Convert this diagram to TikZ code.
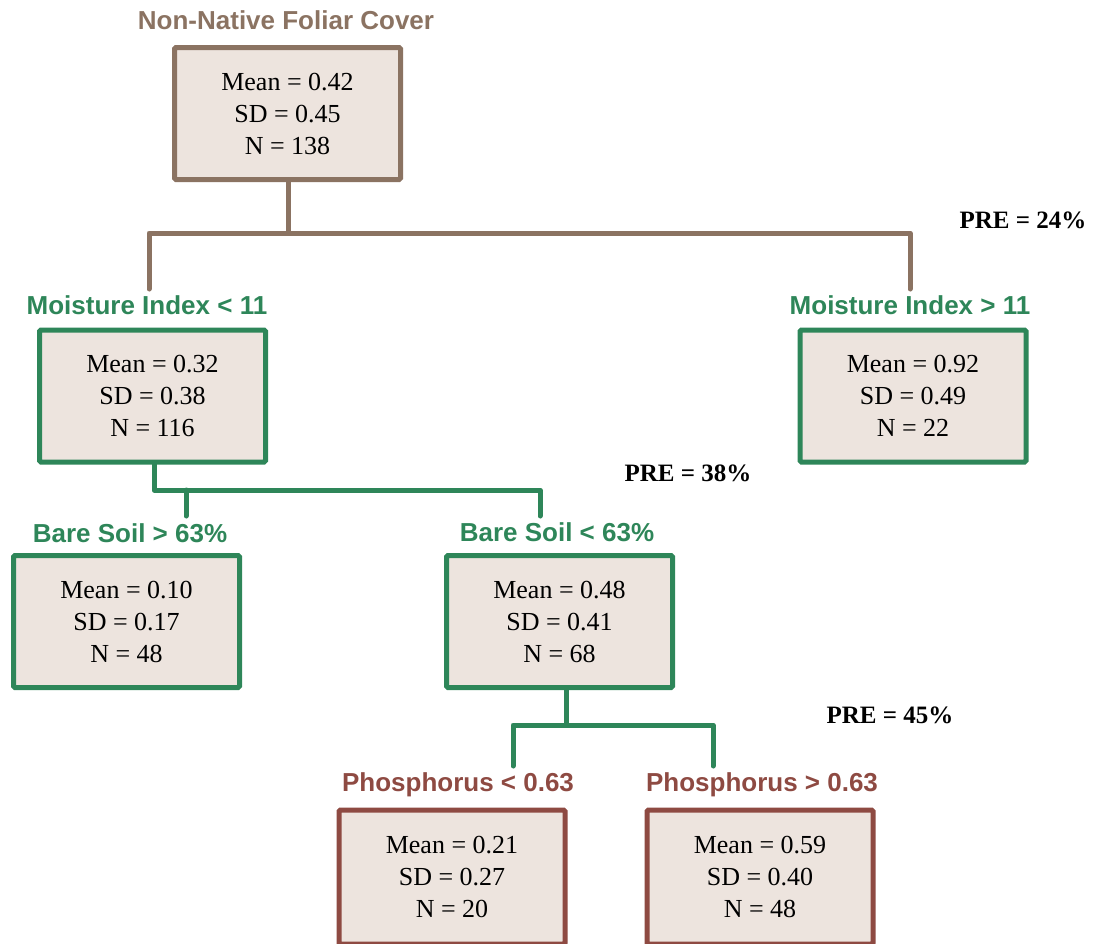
\documentclass[tikz,border=0pt]{standalone}
\usepackage{fontspec}
\setmainfont{Liberation Serif}
\newfontfamily\hdrfont{Liberation Sans}
\definecolor{rootc}{HTML}{8B7362}
\definecolor{greenc}{HTML}{2E8659}
\definecolor{redc}{HTML}{8E4A42}
\definecolor{fillc}{HTML}{EDE4DE}
\begin{document}
\begin{tikzpicture}[x=1pt,y=-1pt,
  box/.style={draw=#1, fill=fillc, line width=5pt, rounded corners=1.5pt,
    minimum width=226pt, minimum height=132pt, align=center, inner sep=0pt,
    font=\fontsize{26}{32}\selectfont},
  hdr/.style={text=#1, font=\hdrfont\bfseries\fontsize{26}{30}\selectfont, inner sep=0pt},
  conn/.style={draw=#1, line width=5pt, line cap=round, line join=round},
  pre/.style={font=\bfseries\fontsize{25}{30}\selectfont, inner sep=0pt}]
\useasboundingbox (0,0) rectangle (1093,943);

% Root
\node[hdr=rootc] (hroot) at (286,20) {Non-Native Foliar Cover};
\node[box=rootc] (root) at (287.5,113.5) {Mean = 0.42\\SD = 0.45\\N = 138};

% Level 1
\node[hdr=greenc] (hm1) at (147,305) {Moisture Index < 11};
\node[box=greenc] (m1) at (152.5,396) {Mean = 0.32\\SD = 0.38\\N = 116};
\node[hdr=greenc] (hm2) at (910,305) {Moisture Index > 11};
\node[box=greenc] (m2) at (913,396) {Mean = 0.92\\SD = 0.49\\N = 22};

% Level 2
\node[hdr=greenc] (hb1) at (130,533) {Bare Soil > 63\%};
\node[box=greenc] (b1) at (126.5,621.5) {Mean = 0.10\\SD = 0.17\\N = 48};
\node[hdr=greenc] (hb2) at (557,532) {Bare Soil < 63\%};
\node[box=greenc] (b2) at (559.5,621.5) {Mean = 0.48\\SD = 0.41\\N = 68};

% Level 3
\node[hdr=redc] (hp1) at (458,785) {Phosphorus < 0.63};
\node[box=redc, minimum height=134pt] (p1) at (452,877) {Mean = 0.21\\SD = 0.27\\N = 20};
\node[hdr=redc] (hp2) at (762,785) {Phosphorus > 0.63};
\node[box=redc, minimum height=134pt] (p2) at (760,877) {Mean = 0.59\\SD = 0.40\\N = 48};

% PRE labels
\node[pre] (pre1) at (1023,220) {PRE = 24\%};
\node[pre] (pre2) at (688,473) {PRE = 38\%};
\node[pre] (pre3) at (890,715) {PRE = 45\%};

% Connectors
\coordinate (r1) at (288,233);
\coordinate (l1) at (149,233);
\coordinate (l1e) at (149,289);
\coordinate (r1r) at (910,233);
\coordinate (r1e) at (910,289);
\draw[conn=rootc] (root.south -| r1) -- (r1);
\draw[conn=rootc] (l1e) -- (l1) -- (r1r) -- (r1e);

\coordinate (g1) at (154,490);
\coordinate (g1b) at (186,490);
\coordinate (g1be) at (186,516);
\coordinate (g1r) at (540,490);
\coordinate (g1re) at (540,516);
\draw[conn=greenc] (m1.south -| g1) -- (g1) -- (g1r) -- (g1re);
\draw[conn=greenc] (g1b) -- (g1be);

\coordinate (g2) at (566,725);
\coordinate (g2l) at (513,725);
\coordinate (g2le) at (513,766);
\coordinate (g2r) at (713,725);
\coordinate (g2re) at (713,766);
\draw[conn=greenc] (b2.south -| g2) -- (g2);
\draw[conn=greenc] (g2le) -- (g2l) -- (g2r) -- (g2re);
\end{tikzpicture}
\end{document}
